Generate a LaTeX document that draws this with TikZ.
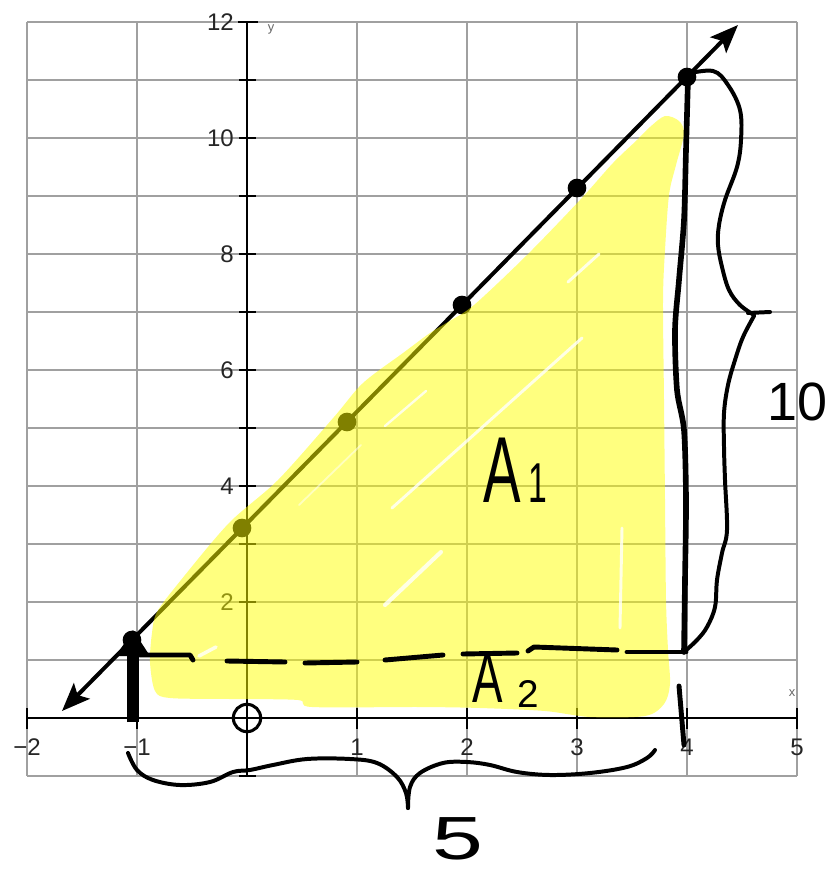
\documentclass[tikz,border=0pt]{standalone}
\usepackage{fontspec}
\setmainfont{Liberation Sans}
\usepackage{graphicx}
\usetikzlibrary{arrows.meta}
\definecolor{gridgray}{RGB}{160,160,160}
\definecolor{hl}{RGB}{255,255,0}
\begin{document}
\begin{tikzpicture}[x=0.03cm,y=-0.03cm,
  gridline/.style={gridgray, line width=2.1pt},
  axisline/.style={black, line width=2.4pt},
  tickline/.style={black, line width=2.4pt},
  axlabel/.style={font=\fontsize{20.5}{20.5}\selectfont, text=black!85, inner sep=0},
  smalllabel/.style={font=\fontsize{11}{11}\selectfont, text=black!60, inner sep=0},
  ink/.style={black, line width=4.2pt, line cap=round, line join=round},
  thinink/.style={black, line width=3.4pt, line cap=round, line join=round},
  hand/.style={inner sep=0, text=black},
  dot/.style={circle, fill=black, inner sep=0, minimum size=0.56cm},
  streak/.style={white, opacity=0.8, line cap=round}
]
\useasboundingbox (0,0) rectangle (828,873);
\fill[white] (0,0) rectangle (828,873);

% grid
\foreach \i in {0,...,7} \draw[gridline] ({27+110*\i},22) -- ({27+110*\i},776);
\foreach \j in {0,...,13} \draw[gridline] (27,{22+58*\j}) -- (797,{22+58*\j});

% axes and ticks
\draw[axisline] (247,22) -- (247,776);
\draw[axisline] (27,718) -- (797,718);
\foreach \j in {0,...,13} \draw[tickline] (239,{22+58*\j}) -- (256,{22+58*\j});
\draw[tickline] (238,22) -- (258,22);
\foreach \i in {0,...,7} \draw[tickline] ({27+110*\i},708) -- ({27+110*\i},729);

% axis labels
\foreach \v in {2,4,...,12} \node[axlabel, anchor=east] (yl\v) at (234,{718-58*\v}) {\v};
\foreach \v/\t in {-2/−2,-1/−1,1/1,2/2,3/3,4/4,5/5} \node[axlabel] (xl\v) at ({247+110*\v},747) {\t};
\node[smalllabel] (ylab) at (271,29) {y};
\node[smalllabel] (xlab) at (792,693) {x};

% the line y = 2x + 3
\coordinate (L0) at (62,711);
\coordinate (L1) at (738,25);
\draw[black, line width=3.4pt, {Stealth[length=24pt,width=19pt,inset=5pt]}-{Stealth[length=24pt,width=19pt,inset=5pt]}] (L0) -- (L1);
\node[dot] (pm1) at (132,640) {};
\node[dot] (p0) at (242,528) {};
\node[dot] (p1) at (347,422) {};
\node[dot] (p2) at (462,305) {};
\node[dot] (p3) at (577,188) {};
\node[dot] (p4) at (687,77) {};

% yellow highlight
\fill[hl, fill opacity=0.5] plot[smooth cycle, tension=0.5] coordinates {
 (665,116) (679,121) (684,134) (676,165) (669,195) (665,250) (663,300) (664,400)
 (665,500) (666,600) (668,650) (670,684) (664,704) (645,716) (590,717) (545,711)
 (480,708) (420,707) (312,707) (298,700) (230,699) (170,698) (155,691) (150,662)
 (152,633) (157,612) (181,580) (229,523) (278,480) (334,417) (363,383) (403,353)
 (430,333) (448,322) (474,305) (527,255) (580,200) (613,163) (637,140) (650,127)};

% highlighter gaps
\draw[streak, line width=3.5pt] (385,605) -- (441,552);
\draw[streak, line width=2.5pt] (392,508) -- (582,338);
\draw[streak, line width=2pt] (385,426) -- (426,391);
\draw[streak, line width=1.5pt, opacity=0.5] (299,505) -- (361,445);
\draw[streak, line width=2.5pt] (568,282) -- (599,254);
\draw[streak, line width=2.5pt] (622,528) -- (620,628);
\draw[streak, line width=3pt] (199,656) -- (216,647);

% handwritten dashed line at y = 1
\draw[ink] (140,655) -- (190,655) -- (193,660);
\draw[ink] (227,661) -- (285,662);
\draw[ink] (305,663) -- (357,662);
\draw[ink] (385,660) -- (443,655);
\draw[ink] (463,654) -- (517,653);
\draw[ink] (528,651) -- (534,647) -- (617,650);
\draw[ink] (627,652) -- (686,652);

% vertical segment at x = 4
\draw[ink, line width=4.8pt] plot[smooth] coordinates {(688,78) (686,150) (684,220) (679,280) (675,330) (677,390) (684,430) (686,500) (685,580) (684,652)};
\draw[ink] (679,686) -- (684,745);

% vertical segment at x = -1
\draw[black, line width=10pt] (133,722) -- (133,650);
\fill[black] (133,630) -- (116,656) -- (150,656) -- cycle;

% origin circle
\node[circle, draw=black, line width=2.6pt, minimum size=0.82cm, inner sep=0] (origin) at (247,718) {};

% right brace
\draw[thinink] plot[smooth, tension=0.6] coordinates {(686,74) (713,71) (728,85) (740,110) (741,140) (737,167) (725,200) (719,225) (718,245) (722,267) (729,290) (740,305) (754,315)};
\draw[thinink] (748,313) -- (770,312);
\draw[thinink] plot[smooth, tension=0.6] coordinates {(754,316) (743,337) (735,360) (728,385) (724,413) (724,447) (725,480) (727,530) (722,553) (717,580) (715,607) (707,627) (697,640) (684,652)};

% bottom brace
\draw[thinink] plot[smooth, tension=0.6] coordinates {(128,753) (137,770) (153,780) (180,785) (210,782) (233,772) (250,770) (273,765) (307,759) (350,759) (377,763) (397,777) (406,793) (408,808)};
\draw[thinink] plot[smooth, tension=0.6] coordinates {(408,808) (410,787) (420,773) (443,763) (467,762) (490,765) (517,772) (550,775) (590,773) (627,767) (647,758) (655,750)};

% handwritten labels
\node[hand, anchor=base west] (A1) at (483,502) {\scalebox{0.6}[1]{\fontsize{80}{80}\selectfont A}\hspace{7pt}\scalebox{0.6}[1]{\fontsize{48}{48}\selectfont 1}};
\node[hand, anchor=base west] (A2) at (472,702) {\scalebox{0.65}[1]{\fontsize{60}{60}\selectfont A}\hspace{12.5pt}\raisebox{-5pt}{\fontsize{33}{33}\selectfont 2}};
\node[hand, anchor=base west] (ten) at (767,420) {\fontsize{46}{46}\selectfont 10};
\node[hand, anchor=base] (five) at (458,859) {\scalebox{1.5}[1]{\fontsize{52}{52}\selectfont 5}};
\end{tikzpicture}
\end{document}
